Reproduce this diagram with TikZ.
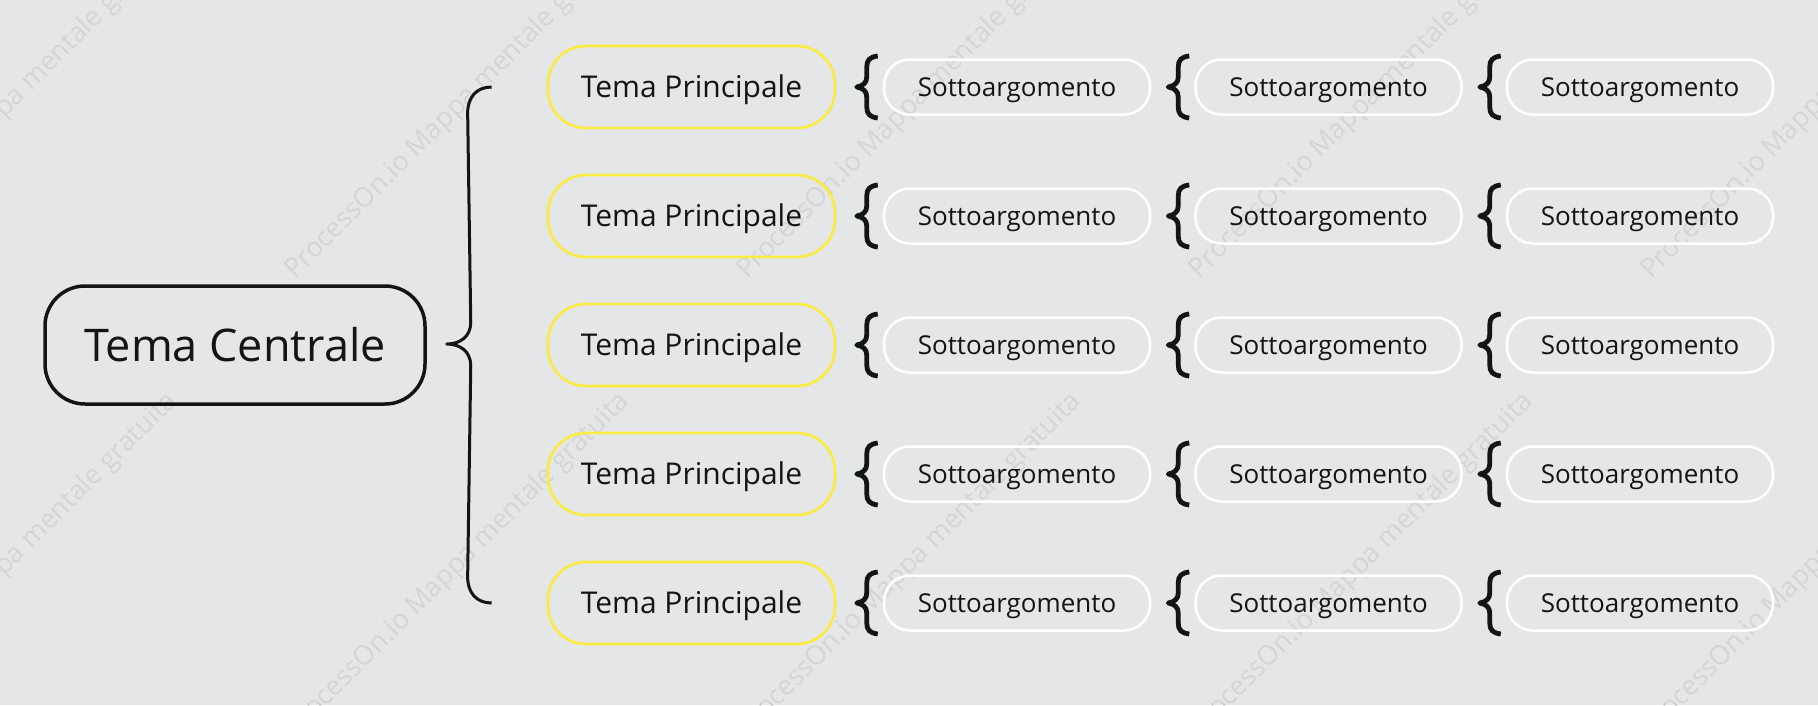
\documentclass[tikz,border=0pt]{standalone}
\usepackage{fontspec}
\setmainfont{Open Sans}
\usetikzlibrary{calc}
\definecolor{bgc}{HTML}{E5E6E8}
\definecolor{ink}{HTML}{141414}
\definecolor{yel}{HTML}{FAEC45}
\definecolor{wmk}{HTML}{D4D5D7}
\tikzset{
  central/.style={draw=ink, line width=3.5pt, rounded corners=40pt, minimum width=380pt, minimum height=118pt, text=ink, inner sep=0pt,
    font=\fontsize{45}{50}\selectfont, text height=32pt, text depth=0pt},
  mainbox/.style={draw=yel, line width=2.7pt, rounded corners=38pt, minimum width=287pt, minimum height=82pt, text=ink, inner sep=0pt,
    font=\fontsize{30}{34}\selectfont, text height=21.4pt, text depth=0pt},
  subbox/.style={draw=white, line width=2.5pt, rounded corners=26pt, minimum width=266pt, minimum height=55pt, text=ink, inner sep=0pt,
    font=\fontsize{26}{30}\selectfont, text height=18.6pt, text depth=0pt},
  bigbrace/.style={draw=ink, line width=3pt, line join=round},
  smallbrace/.style={draw=ink, line width=4.8pt, line join=round},
  watermark/.style={text=wmk, rotate=45, anchor=base west, inner sep=0pt, font=\fontsize{27}{30}\selectfont},
  sbrace/.pic={\path[smallbrace] (-5,-31) .. controls (-13,-30) and (-16,-27) .. (-16,-20) -- (-16,-10) .. controls (-16,-4) and (-20,-1) .. (-26,0) .. controls (-20,1) and (-16,4) .. (-16,10) -- (-16,20) .. controls (-16,27) and (-13,30) .. (-5,31);}
}
\begin{document}
\begin{tikzpicture}[x=1pt,y=-1pt]
\fill[bgc] (0,0) rectangle (1818,705);
\useasboundingbox (0,0) rectangle (1818,705);
\begin{scope}
\clip (0,0) rectangle (1818,705);
\foreach \wx in {-157,295,747,1199,1651} {
  \node[watermark] at (\wx,280) {ProcessOn.io Mappa mentale gratuita};
  \node[watermark] at (\wx,738) {ProcessOn.io Mappa mentale gratuita};
}
\end{scope}

\node[central] (c) at (235,345) {Tema Centrale};

\foreach \r/\yc in {1/87,2/216,3/345,4/474,5/603} {
  \node[mainbox] (m\r) at (691.5,\yc) {Tema Principale};
  \foreach \k/\xc in {1/1017,2/1328.5,3/1640} {
    \node[subbox] (s\r\k) at (\xc,\yc) {Sottoargomento};
    \pic at (s\r\k.west) {sbrace};
  }
}

\coordinate (bt) at ($(m1.west)+(-55,0)$);
\coordinate (bb) at ($(m5.west)+(-55,0)$);
\coordinate (tip) at ($(c.east)+(20,-1)$);
\path[bigbrace] (bt) .. controls ++(-15,0) and ++(0,-16) .. ($(bt)+(-24,26)$)
  -- ($(tip)+(24,-22)$) .. controls ++(0,15) and ++(13,0) .. (tip)
  .. controls ++(13,0) and ++(0,-15) .. ($(tip)+(24,22)$)
  -- ($(bb)+(-24,-26)$) .. controls ++(0,16) and ++(-15,0) .. (bb);
\end{tikzpicture}
\end{document}
